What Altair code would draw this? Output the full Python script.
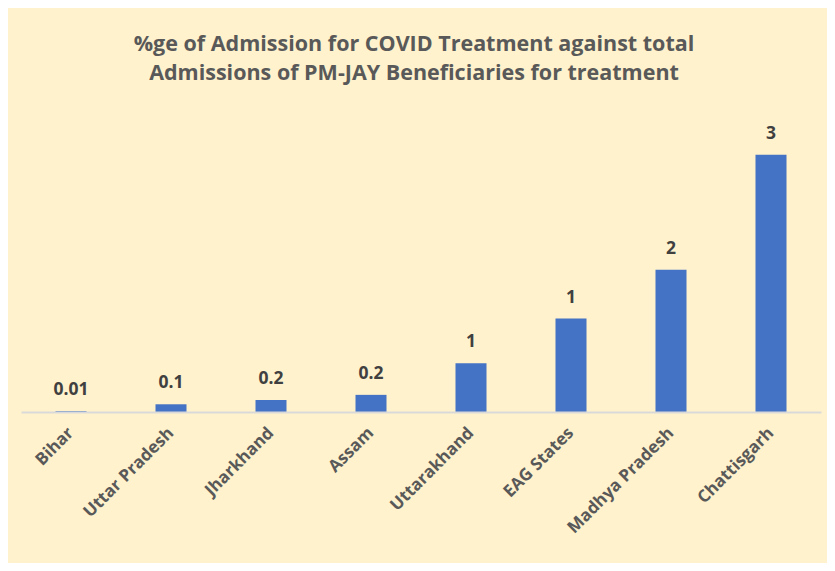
import altair as alt
import pandas as pd

states = ["Bihar", "Uttar Pradesh", "Jharkhand", "Assam", "Uttarakhand",
          "EAG States", "Madhya Pradesh", "Chattisgarh"]
values = [0.01, 0.09, 0.14, 0.2, 0.57, 1.09, 1.66, 3.0]
labels = ["0.01", "0.1", "0.2", "0.2", "1", "1", "2", "3"]

df = pd.DataFrame({"state": states, "value": values, "label": labels})

FONT = "Open Sans"
x = alt.X("state:N", sort=states, title=None,
          scale=alt.Scale(paddingInner=0.69, paddingOuter=0.345),
          axis=alt.Axis(labelAngle=-45, labelAlign="right", labelBaseline="middle",
                        labelFont=FONT, labelFontSize=17, labelFontWeight="bold",
                        labelColor="#595959", labelPadding=18, ticks=False,
                        domainColor="#D9D9D9", domainWidth=2, zindex=1))
y = alt.Y("value:Q", scale=alt.Scale(domain=[0, 3.64], nice=False), axis=None)

bars = alt.Chart(df).mark_bar(color="#4472C4").encode(x=x, y=y)
text = alt.Chart(df).mark_text(baseline="bottom", dy=-12, font=FONT, fontSize=17.5,
                               fontWeight="bold", color="#404040").encode(
    x=alt.X("state:N", sort=states), y="value:Q", text="label:N")

chart = (bars + text).properties(
    width=800, height=312,
    title=alt.TitleParams(
        ["%ge of Admission for COVID Treatment against total",
         "Admissions of PM-JAY Beneficiaries for treatment"],
        font=FONT, fontSize=21.5, fontWeight="bold", color="#595959",
        lineHeight=29, anchor="middle", offset=16, dx=-7),
    background="#FFF2CC",
    padding={"left": 13, "right": 6, "top": 92, "bottom": 151},
    autosize=alt.AutoSizeParams(type="none"),
).configure_view(stroke=None)

chart.save("out.html", embed_options={"renderer": "svg", "actions": False})
